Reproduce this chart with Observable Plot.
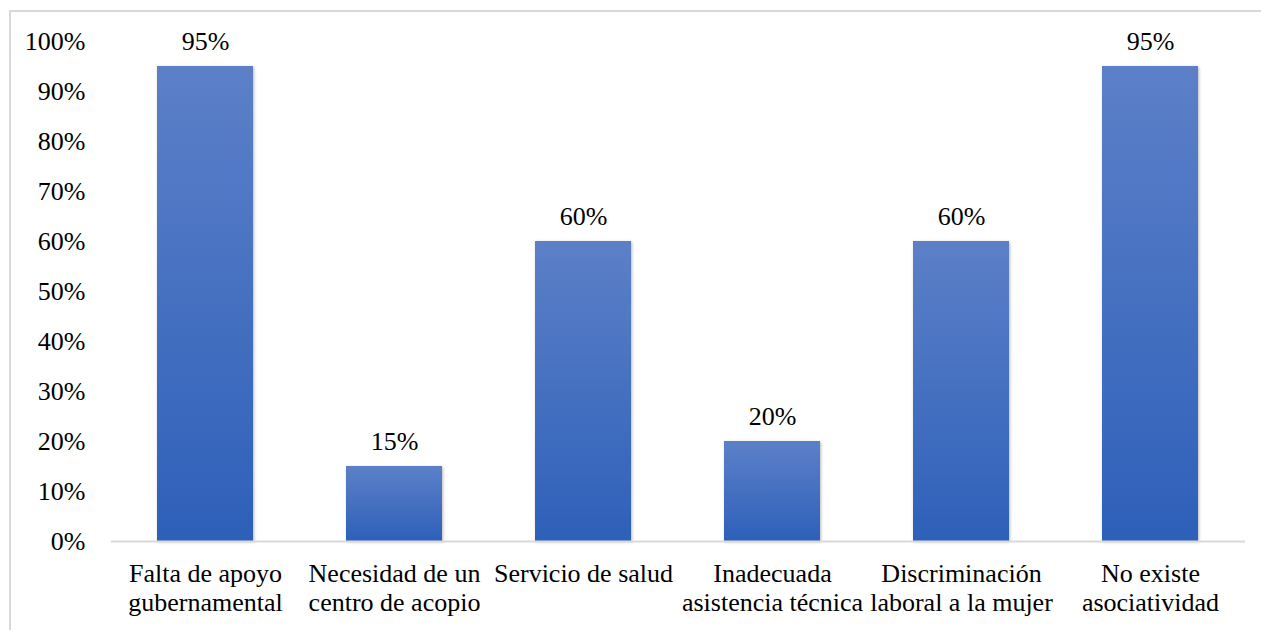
<!DOCTYPE html>
<html>
<head>
<meta charset="utf-8">
<script src="https://cdn.jsdelivr.net/npm/d3@7"></script>
<script src="https://cdn.jsdelivr.net/npm/@observablehq/plot@0.6"></script>
<style>
  html, body { margin: 0; padding: 0; background: #fff; overflow: hidden; }
  #wrap { position: relative; width: 1261px; height: 630px; }
  #frame { position: absolute; left: 9px; top: 10px; width: 1300px; height: 700px; border: 2px solid #d9d9d9; box-sizing: border-box; }
  #chart { position: absolute; left: 0; top: 0; }
  .bars rect { filter: drop-shadow(1.5px 1.5px 1.5px rgba(0,0,0,0.28)); }
</style>
</head>
<body>
<div id="wrap"><div id="frame"></div><div id="chart"></div></div>
<script>
const categories = [
  "Falta de apoyo\ngubernamental",
  "Necesidad de un\ncentro de acopio",
  "Servicio de salud",
  "Inadecuada\nasistencia técnica",
  "Discriminación\nlaboral a la mujer",
  "No existe\nasociatividad"
];
const values = [0.95, 0.15, 0.60, 0.20, 0.60, 0.95];
const yTicks = [0, 0.1, 0.2, 0.3, 0.4, 0.5, 0.6, 0.7, 0.8, 0.9, 1.0];

const data = categories.map((c, i) => ({category: c, value: values[i]}));
const pct = d3.format(".0%");
const SERIF = "Liberation Serif, Times New Roman, serif";

const chart = Plot.plot({
  width: 1261,
  height: 630,
  marginLeft: 111,
  marginRight: 16,
  marginTop: 41,
  marginBottom: 89,
  style: {fontSize: "26px", color: "#000", background: "transparent"},
  x: {domain: categories, paddingInner: 0.49, paddingOuter: 0.245, label: null},
  y: {domain: [0, 1], label: null},
  marks: [
    () => {
      const svg = d3.create("svg:defs");
      const g = svg.append("linearGradient").attr("id", "barGrad").attr("x1", 0).attr("y1", 0).attr("x2", 0).attr("y2", 1);
      g.append("stop").attr("offset", "0%").attr("stop-color", "#5c80c8");
      g.append("stop").attr("offset", "100%").attr("stop-color", "#2e60b9");
      return svg.node();
    },
    Plot.barY(data, {x: "category", y: "value", fill: "url(#barGrad)", className: "bars"}),
    Plot.ruleY([0], {stroke: "#d9d9d9", strokeWidth: 2}),
    Plot.text(data, {x: "category", y: "value", text: d => pct(d.value), dy: -25, lineAnchor: "middle", fill: "#000", fontSize: 26, fontFamily: SERIF}),
    Plot.axisY({ticks: yTicks, tickFormat: pct, tickSize: 0, tickPadding: 26, label: null, fontSize: 26, fontFamily: SERIF}),
    Plot.axisX({tickSize: 0, tickPadding: 21, label: null, lineHeight: 1.08, fontSize: 26, fontFamily: SERIF})
  ]
});
document.getElementById("chart").appendChild(chart);
</script>
</body>
</html>
